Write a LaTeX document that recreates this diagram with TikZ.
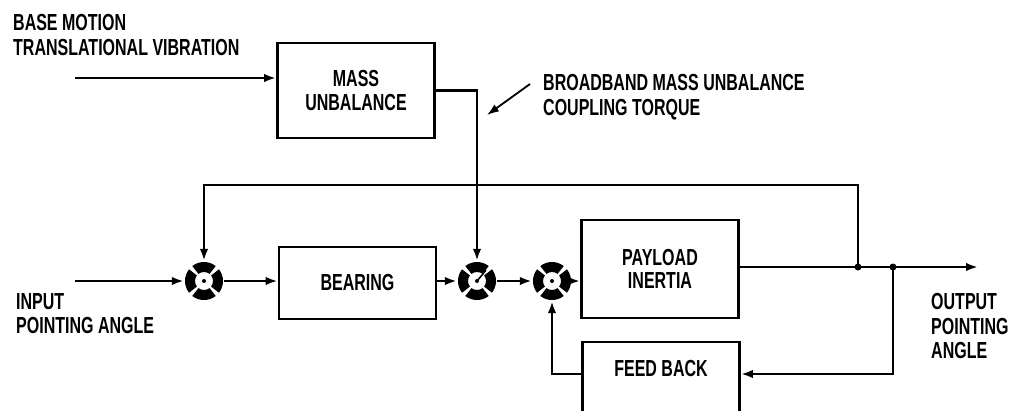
\documentclass[tikz,border=0pt]{standalone}
\usepackage{fontspec}
\setmainfont{Liberation Sans}[FakeStretch=0.69]
\usetikzlibrary{arrows.meta,calc}

% summing junction: four thick ring pieces and a dot
\newcommand\sumring[1]{%
  \foreach \a in {0,90,180,270}{%
    \fill ($(#1)+(\a-38:19)$) arc[start angle=\a-38,end angle=\a+38,radius=19]
      -- ($(#1)+(\a+38:9)$) arc[start angle=\a+38,end angle=\a-38,radius=9] -- cycle;}
  \fill (#1) circle[radius=2];}

\begin{document}
\begin{tikzpicture}[
        x=0.025cm, y=-0.025cm, line width=1.7pt,
        block/.style={draw,line width=1.9pt,minimum width=3.925cm,inner sep=0,
                      font=\fontsize{16.5}{16.5}\selectfont\bfseries,align=center},
        sumj/.style={circle,minimum size=0.95cm,inner sep=0},
        lbl/.style={inner sep=0,align=left,font=\fontsize{16.5}{17.5}\selectfont\bfseries},
        arr/.style={-{Latex[length=8.5pt,width=6pt]}}
                    ]
  \useasboundingbox (0,0) rectangle (1010,410);
  \clip (0,0) rectangle (1010,410);

  % blocks
  \node[block,minimum height=2.375cm] (mass) at (356,90.5) {MASS\\UNBALANCE};
  \node[block,minimum height=1.8cm] (bearing) at (357.5,283) {BEARING};
  \node[block,minimum height=2.45cm] (payload) at (660,269) {PAYLOAD\\INERTIA};
  \node[block,minimum height=2.4cm,text depth=1.1cm] (feedback) at (661,390) {FEED BACK};

  % summing junctions
  \node[sumj] (s1) at (204,281) {};
  \node[sumj] (s2) at (477,281) {};
  \node[sumj] (s3) at (552,281) {};
  \sumring{s1}
  \sumring{s2}
  \sumring{s3}
  \draw[line width=1.1pt] (s2.center) -- ++(-50:14);

  % labels
  \node[lbl,anchor=north west] (base) at (12,13) {BASE MOTION\\TRANSLATIONAL VIBRATION};
  \node[lbl,anchor=north west] (torque) at (542,73) {BROADBAND MASS UNBALANCE\\COUPLING TORQUE};
  \node[lbl,anchor=north west] (input) at (15,292) {INPUT\\POINTING ANGLE};
  \node[lbl,anchor=north west] (output) at (930,292) {OUTPUT\\POINTING\\ANGLE};

  % free ends and branch points
  \coordinate (vin) at (75,78);
  \coordinate (in) at (75,281);
  \coordinate (out) at (978,267);
  \coordinate (j1) at (858,267);
  \coordinate (j2) at (893,267);
  \coordinate (top) at (858,185);
  \coordinate (fb) at (893,374);
  \coordinate (tq1) at (530,84);
  \coordinate (tq2) at (487,115);

  \draw[arr] (vin) -- (vin -| mass.west);
  \draw[arr] (mass.east) -| (s2.north);
  \draw[arr,line width=1.3pt] (tq1) -- (tq2);
  \draw[arr] (in) -- (s1.west);
  \draw[arr] (s1.east) -- (s1.east -| bearing.west);
  \draw[arr] (s2.west -| bearing.east) -- (s2.west);
  \draw[arr] (s2.east) -- (s3.west);
  \draw[arr] (s3.east) -- (s3.east -| payload.west);
  \draw[arr] (j1 -| payload.east) -- (out);
  \draw[arr] (j1) -- (top) -| (s1.north);
  \draw[arr] (j2) -- (fb) -- (fb -| feedback.east);
  \draw[arr] (fb -| feedback.west) -| (s3.south);
  \fill (j1) circle[radius=3.5];
  \fill (j2) circle[radius=3.5];
\end{tikzpicture}
\end{document}
